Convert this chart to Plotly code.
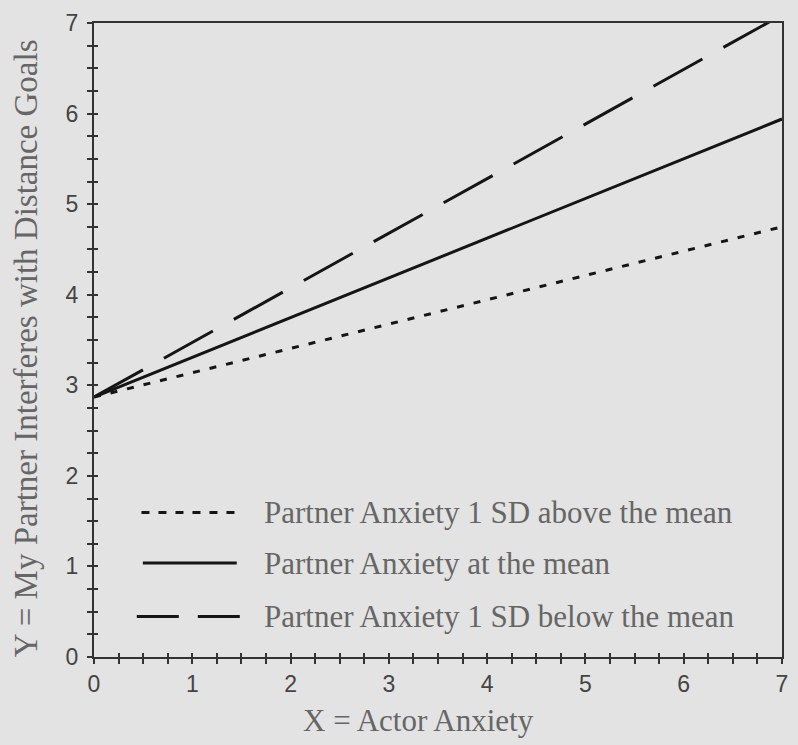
import plotly.graph_objects as go

# Data
x_vals = [0, 7]
series_names = [
    "Partner Anxiety 1 SD above the mean",
    "Partner Anxiety at the mean",
    "Partner Anxiety 1 SD below the mean",
]
above_mean = [2.87, 4.75]
at_mean = [2.87, 5.94]
below_mean = [2.87, 7.09]
x_ticks = [0, 1, 2, 3, 4, 5, 6, 7]
y_ticks = [0, 1, 2, 3, 4, 5, 6, 7]
x_title = "X = Actor Anxiety"
y_title = "Y = My Partner Interferes with Distance Goals"

bg = "#e3e3e3"
ink = "#151515"
axis_col = "#333333"
text_col = "#666666"

styles = [
    dict(dash="7px,10px", legdash="8px,9px"),
    dict(dash="solid", legdash="solid"),
    dict(dash="56px,24px", legdash="42px,19px"),
]
series = [above_mean, at_mean, below_mean]

fig = go.Figure()
for name, ys, st in zip(series_names, series, styles):
    fig.add_trace(go.Scatter(
        x=x_vals, y=ys, mode="lines", name=name, showlegend=False,
        line=dict(color=ink, width=3, dash=st["dash"]),
    ))

# invisible helper trace so the overlaid (inside-tick) axes get drawn
fig.add_trace(go.Scatter(x=x_vals, y=at_mean, xaxis="x2", yaxis="y2",
                         mode="lines", opacity=0, hoverinfo="skip",
                         showlegend=False))

axis_common = dict(
    range=[0, 7], showgrid=False, zeroline=False,
    showline=True, linecolor=axis_col, linewidth=2,
)

fig.update_layout(
    width=798, height=745,
    margin=dict(l=94, r=10, t=16, b=88),
    paper_bgcolor=bg, plot_bgcolor=bg,
    xaxis=dict(
        **axis_common, mirror=True,
        tickmode="array", tickvals=x_ticks, ticktext=[str(v) for v in x_ticks],
        ticks="outside", ticklen=5, tickwidth=2, tickcolor=axis_col,
        minor=dict(dtick=0.25, ticks="outside", ticklen=5, tickwidth=2, tickcolor=axis_col),
        tickfont=dict(family="Liberation Sans", size=23, color="#444444"),
        ticklabelstandoff=0,
    ),
    yaxis=dict(
        **axis_common, mirror=True,
        tickmode="array", tickvals=y_ticks, ticktext=[str(v) for v in y_ticks],
        ticks="outside", ticklen=5, tickwidth=2, tickcolor=axis_col,
        minor=dict(dtick=0.25, ticks="outside", ticklen=5, tickwidth=2, tickcolor=axis_col),
        tickfont=dict(family="Liberation Sans", size=23, color="#444444"),
        ticklabelstandoff=4,
    ),
    xaxis2=dict(
        **axis_common, overlaying="x", anchor="y2", side="bottom",
        tickmode="array", tickvals=x_ticks, showticklabels=False,
        ticks="inside", ticklen=4, tickwidth=2, tickcolor=axis_col,
        minor=dict(dtick=0.25, ticks="inside", ticklen=4, tickwidth=2, tickcolor=axis_col),
    ),
    yaxis2=dict(
        **axis_common, overlaying="y", anchor="x2", side="left",
        tickmode="array", tickvals=y_ticks, showticklabels=False,
        ticks="inside", ticklen=4, tickwidth=2, tickcolor=axis_col,
        minor=dict(dtick=0.25, ticks="inside", ticklen=4, tickwidth=2, tickcolor=axis_col),
    ),
)

# Manual legend (long line samples like the original)
leg_rows = [0.2278, 0.1482, 0.064]
sample_x = [[0.069, 0.2075], [0.071, 0.2075], [0.0622, 0.215]]
for name, st, yr, sx in zip(series_names, styles, leg_rows, sample_x):
    fig.add_shape(type="line", xref="paper", yref="paper",
                  x0=sx[0], x1=sx[1], y0=yr, y1=yr,
                  line=dict(color=ink, width=3, dash=st["legdash"]))
    fig.add_annotation(xref="paper", yref="paper", x=0.2435, y=yr,
                       xanchor="left", yanchor="middle", showarrow=False,
                       text=name,
                       font=dict(family="Liberation Serif", size=31, color=text_col))

# Axis titles
fig.add_annotation(xref="paper", yref="paper", x=0.471, y=-0.1,
                   xanchor="center", yanchor="middle", showarrow=False,
                   text=x_title,
                   font=dict(family="Liberation Serif", size=31, color=text_col))
fig.add_annotation(xref="paper", yref="paper", x=-0.099, y=0.487,
                   xanchor="center", yanchor="middle", showarrow=False,
                   textangle=-90, text=y_title,
                   font=dict(family="Liberation Serif", size=33, color=text_col))

fig.write_html("out.html")
